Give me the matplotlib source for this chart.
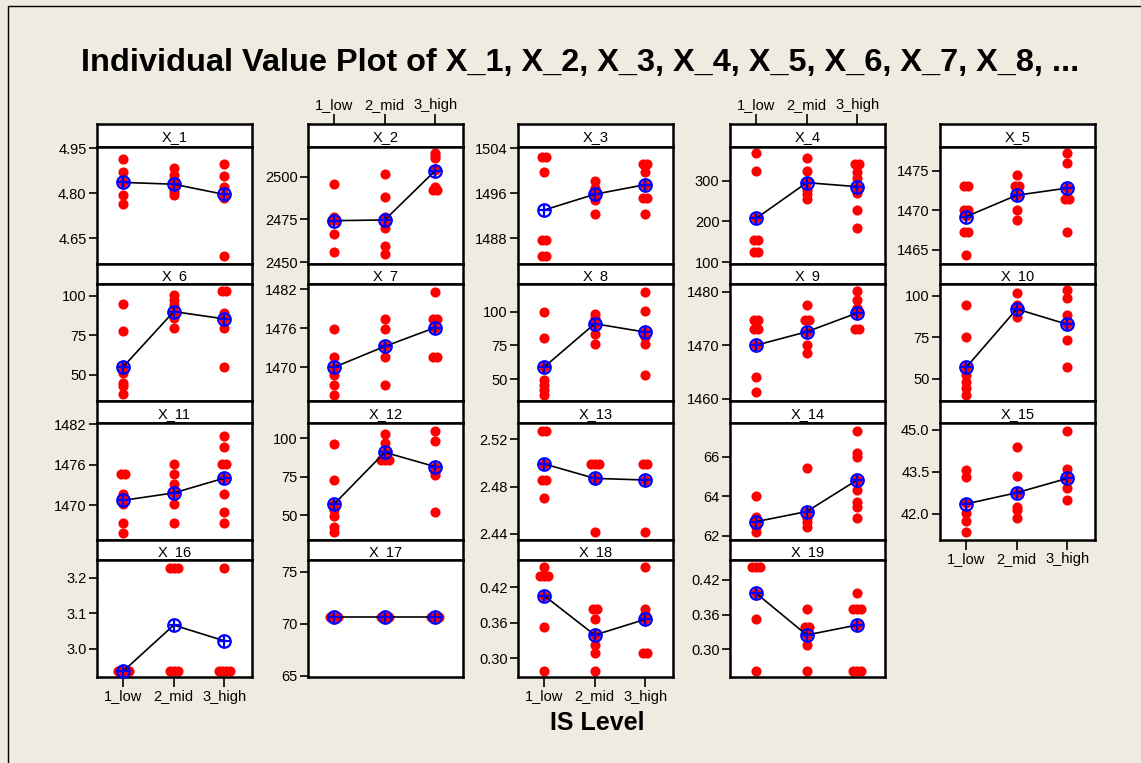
import matplotlib
matplotlib.use('Agg')
import matplotlib.pyplot as plt
from matplotlib.patches import Rectangle

# ---------------- data ----------------
levels = ['1_low', '2_mid', '3_high']
title = 'Individual Value Plot of X_1, X_2, X_3, X_4, X_5, X_6, X_7, X_8, ...'
xlabel = 'IS Level'

X1 = [[4.914, 4.870, 4.836, 4.794, 4.763],
      [4.883, 4.861, 4.845, 4.836, 4.817, 4.805, 4.794],
      [4.897, 4.856, 4.822, 4.794, 4.783, 4.591]]
X1_mean = [4.836, 4.830, 4.796]

X2 = [[2495.5, 2476.6, 2474.7, 2474.7, 2466.3, 2455.8],
      [2501.4, 2488.3, 2476.6, 2472.8, 2469.8, 2459.7, 2454.9],
      [2514.0, 2512.0, 2510.7, 2503.9, 2493.8, 2492.2, 2492.2]]
X2_mean = [2474.3, 2474.7, 2503.5]

X3 = [[1502.5, 1502.5, 1499.7, 1487.7, 1487.7, 1484.9, 1484.9],
      [1498.1, 1496.9, 1496.5, 1495.9, 1494.8, 1492.3],
      [1501.2, 1501.2, 1499.7, 1497.5, 1495.1, 1495.1, 1492.3]]
X3_mean = [1493.0, 1495.8, 1497.5]

X4 = [[368.6, 324.5, 207.8, 154.7, 154.7, 124.5, 124.5],
      [354.7, 324.5, 297.6, 277.1, 267.3, 254.3],
      [340.0, 340.0, 322.0, 307.0, 285.3, 270.6, 228.2, 183.3]]
X4_mean = [207.8, 295.1, 285.3]

X5 = [[1473.1, 1473.1, 1470.0, 1470.0, 1469.3, 1467.2, 1467.2, 1464.3],
      [1474.5, 1473.1, 1473.1, 1471.9, 1470.0, 1468.8],
      [1477.3, 1476.0, 1472.8, 1471.4, 1471.4, 1467.2]]
X5_mean = [1469.2, 1471.9, 1472.8]

X6 = [[94.8, 77.5, 55.2, 51.5, 45.2, 43.1, 37.9],
      [100.4, 97.3, 94.2, 90.0, 85.8, 79.6],
      [102.9, 102.9, 89.0, 85.4, 79.6, 55.2]]
X6_mean = [55.2, 90.0, 85.4]

X7 = [[1475.9, 1471.6, 1470.0, 1468.8, 1467.3, 1465.7],
      [1477.4, 1475.9, 1473.2, 1471.5, 1467.3],
      [1481.6, 1477.4, 1477.4, 1476.1, 1471.5, 1471.5]]
X7_mean = [1470.0, 1473.2, 1476.1]

X8 = [[99.5, 80.7, 59.1, 49.3, 45.6, 42.0, 38.2],
      [98.3, 95.5, 91.0, 83.6, 76.3],
      [114.2, 100.7, 84.8, 81.1, 76.3, 53.0]]
X8_mean = [59.0, 91.0, 84.8]

X9 = [[1474.7, 1474.7, 1473.0, 1473.0, 1470.0, 1464.0, 1461.2],
      [1477.5, 1474.7, 1474.7, 1472.5, 1470.0, 1468.5],
      [1480.1, 1478.4, 1476.9, 1476.0, 1473.0, 1473.0]]
X9_mean = [1470.0, 1472.5, 1476.0]

X10 = [[94.4, 75.0, 57.0, 52.4, 48.4, 44.4, 40.4],
       [101.4, 94.4, 92.0, 87.4],
       [103.4, 98.4, 88.4, 82.8, 73.4, 57.0]]
X10_mean = [57.0, 92.0, 82.8]

X11 = [[1474.6, 1474.6, 1471.6, 1470.7, 1470.2, 1467.4, 1465.9],
       [1476.1, 1474.6, 1473.2, 1471.8, 1470.1, 1467.4],
       [1480.2, 1478.7, 1476.1, 1476.1, 1474.0, 1471.6, 1468.9, 1467.4]]
X11_mean = [1470.7, 1471.8, 1474.0]

X12 = [[96.1, 72.8, 57.2, 53.3, 49.3, 42.0, 39.1],
       [102.6, 97.2, 90.9, 85.9, 85.9, 85.9],
       [105.0, 98.3, 81.5, 78.3, 76.1, 51.7]]
X12_mean = [57.2, 90.9, 81.5]

X13 = [[2.5273, 2.5273, 2.4992, 2.4856, 2.4856, 2.4701],
       [2.4992, 2.4992, 2.4992, 2.4870, 2.4856, 2.4420],
       [2.4992, 2.4992, 2.4856, 2.4420]]
X13_mean = [2.4992, 2.4870, 2.4856]

X14 = [[64.01, 62.93, 62.71, 62.46, 62.20],
       [65.41, 63.22, 62.88, 62.71, 62.42],
       [67.32, 66.17, 66.00, 64.82, 64.31, 63.72, 63.47, 62.91]]
X14_mean = [62.71, 63.22, 64.82]

X15 = [[43.57, 43.33, 42.38, 42.02, 41.76, 41.37],
       [44.40, 43.36, 42.76, 42.26, 42.14, 41.85],
       [44.98, 43.60, 43.27, 42.92, 42.50]]
X15_mean = [42.36, 42.76, 43.27]

X16 = [[2.938, 2.938, 2.938, 2.938],
       [3.228, 3.228, 3.228, 2.938, 2.938, 2.938],
       [3.228, 2.938, 2.938, 2.938, 2.938]]
X16_mean = [2.938, 3.067, 3.023]

X17 = [[70.61, 70.61, 70.61],
       [70.61, 70.61, 70.61],
       [70.61, 70.61, 70.61]]
X17_mean = [70.61, 70.61, 70.61]

X18 = [[0.4549, 0.4397, 0.4397, 0.4397, 0.4059, 0.3524, 0.2792],
       [0.3834, 0.3834, 0.3659, 0.3394, 0.3225, 0.3085, 0.2792],
       [0.4538, 0.3834, 0.3749, 0.3659, 0.3096, 0.3096]]
X18_mean = [0.4059, 0.3394, 0.3659]

X19 = [[0.4419, 0.4419, 0.4419, 0.3969, 0.3519, 0.2631],
       [0.3692, 0.3392, 0.3392, 0.3248, 0.3075, 0.2631],
       [0.3969, 0.3692, 0.3692, 0.3692, 0.3421, 0.2631, 0.2631, 0.2631]]
X19_mean = [0.3969, 0.3248, 0.3421]

panel_names = ['X_%d' % i for i in range(1, 20)]
panel_data = [X1, X2, X3, X4, X5, X6, X7, X8, X9, X10,
              X11, X12, X13, X14, X15, X16, X17, X18, X19]
panel_means = [X1_mean, X2_mean, X3_mean, X4_mean, X5_mean, X6_mean, X7_mean,
               X8_mean, X9_mean, X10_mean, X11_mean, X12_mean, X13_mean,
               X14_mean, X15_mean, X16_mean, X17_mean, X18_mean, X19_mean]

y_ticks = [[4.65, 4.80, 4.95], [2450, 2475, 2500], [1488, 1496, 1504],
           [100, 200, 300], [1465, 1470, 1475], [50, 75, 100],
           [1470, 1476, 1482], [50, 75, 100], [1460, 1470, 1480],
           [50, 75, 100], [1470, 1476, 1482], [50, 75, 100],
           [2.44, 2.48, 2.52], [62, 64, 66], [42.0, 43.5, 45.0],
           [3.0, 3.1, 3.2], [65, 70, 75], [0.30, 0.36, 0.42], [0.30, 0.36, 0.42]]
y_ticklabels = [['4.65', '4.80', '4.95'], ['2450', '2475', '2500'], ['1488', '1496', '1504'],
                ['100', '200', '300'], ['1465', '1470', '1475'], ['50', '75', '100'],
                ['1470', '1476', '1482'], ['50', '75', '100'], ['1460', '1470', '1480'],
                ['50', '75', '100'], ['1470', '1476', '1482'], ['50', '75', '100'],
                ['2.44', '2.48', '2.52'], ['62', '64', '66'], ['42.0', '43.5', '45.0'],
                ['3.0', '3.1', '3.2'], ['65', '70', '75'], ['0.30', '0.36', '0.42'],
                ['0.30', '0.36', '0.42']]
y_limits = [(4.564, 4.954), (2449.0, 2517.3), (1483.4, 1504.2), (95.9, 382.4),
            (1463.2, 1478.0), (33.6, 107.4), (1464.8, 1482.8), (33.8, 120.4),
            (1459.6, 1481.4), (36.8, 107.0), (1464.8, 1482.2), (33.7, 110.0),
            (2.4349, 2.5338), (61.78, 67.70), (41.07, 45.25), (2.9215, 3.2495),
            (64.87, 76.12), (0.2685, 0.4662), (0.2521, 0.4546)]

# ---------------- layout ----------------
W, H = 1141, 763
BG = '#efebe0'
plt.rcParams['font.family'] = ['Liberation Sans', 'DejaVu Sans']
fig = plt.figure(figsize=(W / 100, H / 100), dpi=100)
fig.patch.set_facecolor(BG)


def ax_px(l, t, w, h):
    return fig.add_axes([l / W, 1 - (t + h) / H, w / W, h / H])


col_left = [97, 308, 518, 730, 940]
PW = 155
hdr_top = [124, 264, 401, 540]
plot_top = [147, 284, 423, 560]
plot_bot = [264, 401, 540, 677]
XLIM = (0.48, 3.55)
top_label_panels = {1, 3}          # X_2, X_4
bottom_label_panels = {14, 15, 17}  # X_15, X_16, X_18


def jitter(vals, cx):
    counts = {}
    for v in vals:
        counts[v] = counts.get(v, 0) + 1
    seen = {}
    xs = []
    for v in vals:
        n = counts[v]
        i = seen.get(v, 0)
        seen[v] = i + 1
        xs.append(cx + (i - (n - 1) / 2) * 0.075)
    return xs


for k, name in enumerate(panel_names):
    r, c = divmod(k, 5)
    l = col_left[c]
    # header strip
    hax = ax_px(l, hdr_top[r], PW, plot_top[r] - hdr_top[r])
    hax.set_facecolor('white')
    hax.set_xlim(*XLIM)
    hax.set_yticks([])
    for s in hax.spines.values():
        s.set_linewidth(1.8)
    hax.text(0.5, 0.42, name, ha='center', va='center', fontsize=10.5,
             transform=hax.transAxes)
    if k in top_label_panels:
        hax.xaxis.tick_top()
        hax.set_xticks([1, 2, 3], levels)
        hax.tick_params(axis='x', length=7, width=1.2, pad=1.5, labelsize=10.5)
    else:
        hax.set_xticks([])

    # plot area
    ax = ax_px(l, plot_top[r], PW, plot_bot[r] - plot_top[r])
    ax.set_facecolor('white')
    for s in ax.spines.values():
        s.set_linewidth(1.8)
    for g, vals in enumerate(panel_data[k]):
        ax.plot(jitter(vals, g + 1), vals, 'o', color='#ff0000', ms=7.3,
                mew=0, zorder=2, clip_on=False)
    ax.plot([1, 2, 3], panel_means[k], color='black', lw=1.2, zorder=3)
    ax.plot([1, 2, 3], panel_means[k], 'o', mfc='none', mec='#0000ff', ms=9,
            mew=1.6, zorder=4, clip_on=False)
    ax.plot([1, 2, 3], panel_means[k], '+', color='#0000ff', ms=9,
            mew=1.6, zorder=4, clip_on=False)
    ax.set_xlim(*XLIM)
    ax.set_ylim(*y_limits[k])
    ax.set_yticks(y_ticks[k], y_ticklabels[k])
    ax.tick_params(axis='y', direction='out', length=6, width=1.2, pad=1.5,
                   labelsize=10.5)
    if k in bottom_label_panels:
        ax.set_xticks([1, 2, 3], levels)
        ax.tick_params(axis='x', direction='out', length=7, width=1.2, pad=2,
                       labelsize=10.5)
    else:
        ax.set_xticks([])

# title fitted to the reference width
t = fig.text(580 / W, 1 - 71 / H, title, ha='center', va='baseline',
             fontsize=24, fontweight='bold')
fig.canvas.draw()
w = t.get_window_extent().width
t.set_fontsize(24 * 1002 / w)

fig.text(597 / W, 1 - 730 / H, xlabel, ha='center', va='baseline',
         fontsize=18, fontweight='bold')

# outer frame (left and top edges visible)
fig.patches.append(Rectangle((8 / W, -0.1), 1.2, 1 - 6 / H + 0.1,
                             transform=fig.transFigure, fill=False,
                             ec='black', lw=1.0))

fig.savefig('out.png', dpi=100, facecolor=BG)
